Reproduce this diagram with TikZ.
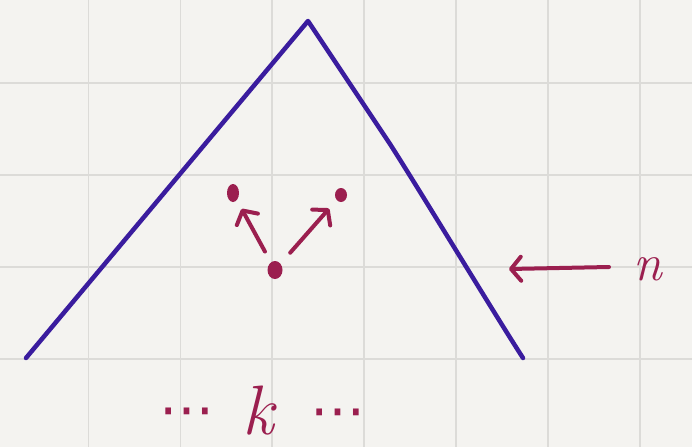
\documentclass[tikz,border=0pt]{standalone}
\usepackage{fontspec}
\newfontfamily\dejavu{DejaVu Sans}
\usetikzlibrary{arrows.meta,shapes.geometric}
\definecolor{paper}{HTML}{F4F3F0}
\definecolor{gridc}{HTML}{DCDBD8}
\definecolor{ink}{HTML}{3A1C9E}
\definecolor{wine}{HTML}{9B1F4F}
\begin{document}
\begin{tikzpicture}[x=1pt,y=-1pt,
  gridline/.style={draw=gridc,line width=1.8pt},
  tri/.style={draw=ink,line width=4.5pt,line cap=round,line join=round},
  vtx/.style={ellipse,fill=wine,inner sep=0pt},
  harrow/.style={draw=wine,line width=4pt,line cap=round,
    -{Straight Barb[length=10pt,width=24pt,line cap=round,line join=round]}},
  lbl/.style={text=wine,inner sep=0pt,font=\fontsize{70}{70}\selectfont\itshape},
  dotsl/.style={text=wine,inner sep=0pt,font=\fontsize{55}{55}\selectfont\dejavu}]
  \fill[paper] (0,0) rectangle (692,447);
  \useasboundingbox (0,0) rectangle (692,447);
  % grid
  \foreach \x in {88.5,180.4,272.3,364.2,456.1,548,639.9}
    \draw[gridline] (\x,0) -- (\x,447);
  \foreach \y in {83,174.9,266.8,358.7}
    \draw[gridline] (0,\y) -- (692,\y);
  % triangle
  \coordinate (L) at (26,358);
  \coordinate (A) at (308,21);
  \coordinate (M) at (390,144);
  \coordinate (R) at (523,358);
  \draw[tri] (L) -- (A) -- (M) .. controls (422,194) and (497,318) .. (R);
  % vertices
  \node[vtx,minimum width=12pt,minimum height=18pt] (l) at (233,193) {};
  \node[vtx,minimum width=12pt,minimum height=14pt] (r) at (341,195) {};
  \node[vtx,minimum width=15pt,minimum height=18pt] (b) at (275,270) {};
  \draw[harrow,shorten <=21pt,shorten >=18pt] (b.center) -- (l.center);
  \draw[harrow,shorten <=23pt,shorten >=18pt] (b.center) -- (r.center);
  % n arrow
  \coordinate (ntail) at (609,267);
  \coordinate (nhead) at (509,269);
  \draw[harrow] (ntail) -- (nhead);
  \node[lbl,font=\fontsize{52}{52}\selectfont\itshape] (nl) at (648,269) {n};
  % bottom label
  \node[dotsl] (dl) at (187,418) {⋯};
  \node[lbl,anchor=base] (k) at (258,434) {k};
  \node[dotsl] (dr) at (338,419) {⋯};
\end{tikzpicture}
\end{document}
